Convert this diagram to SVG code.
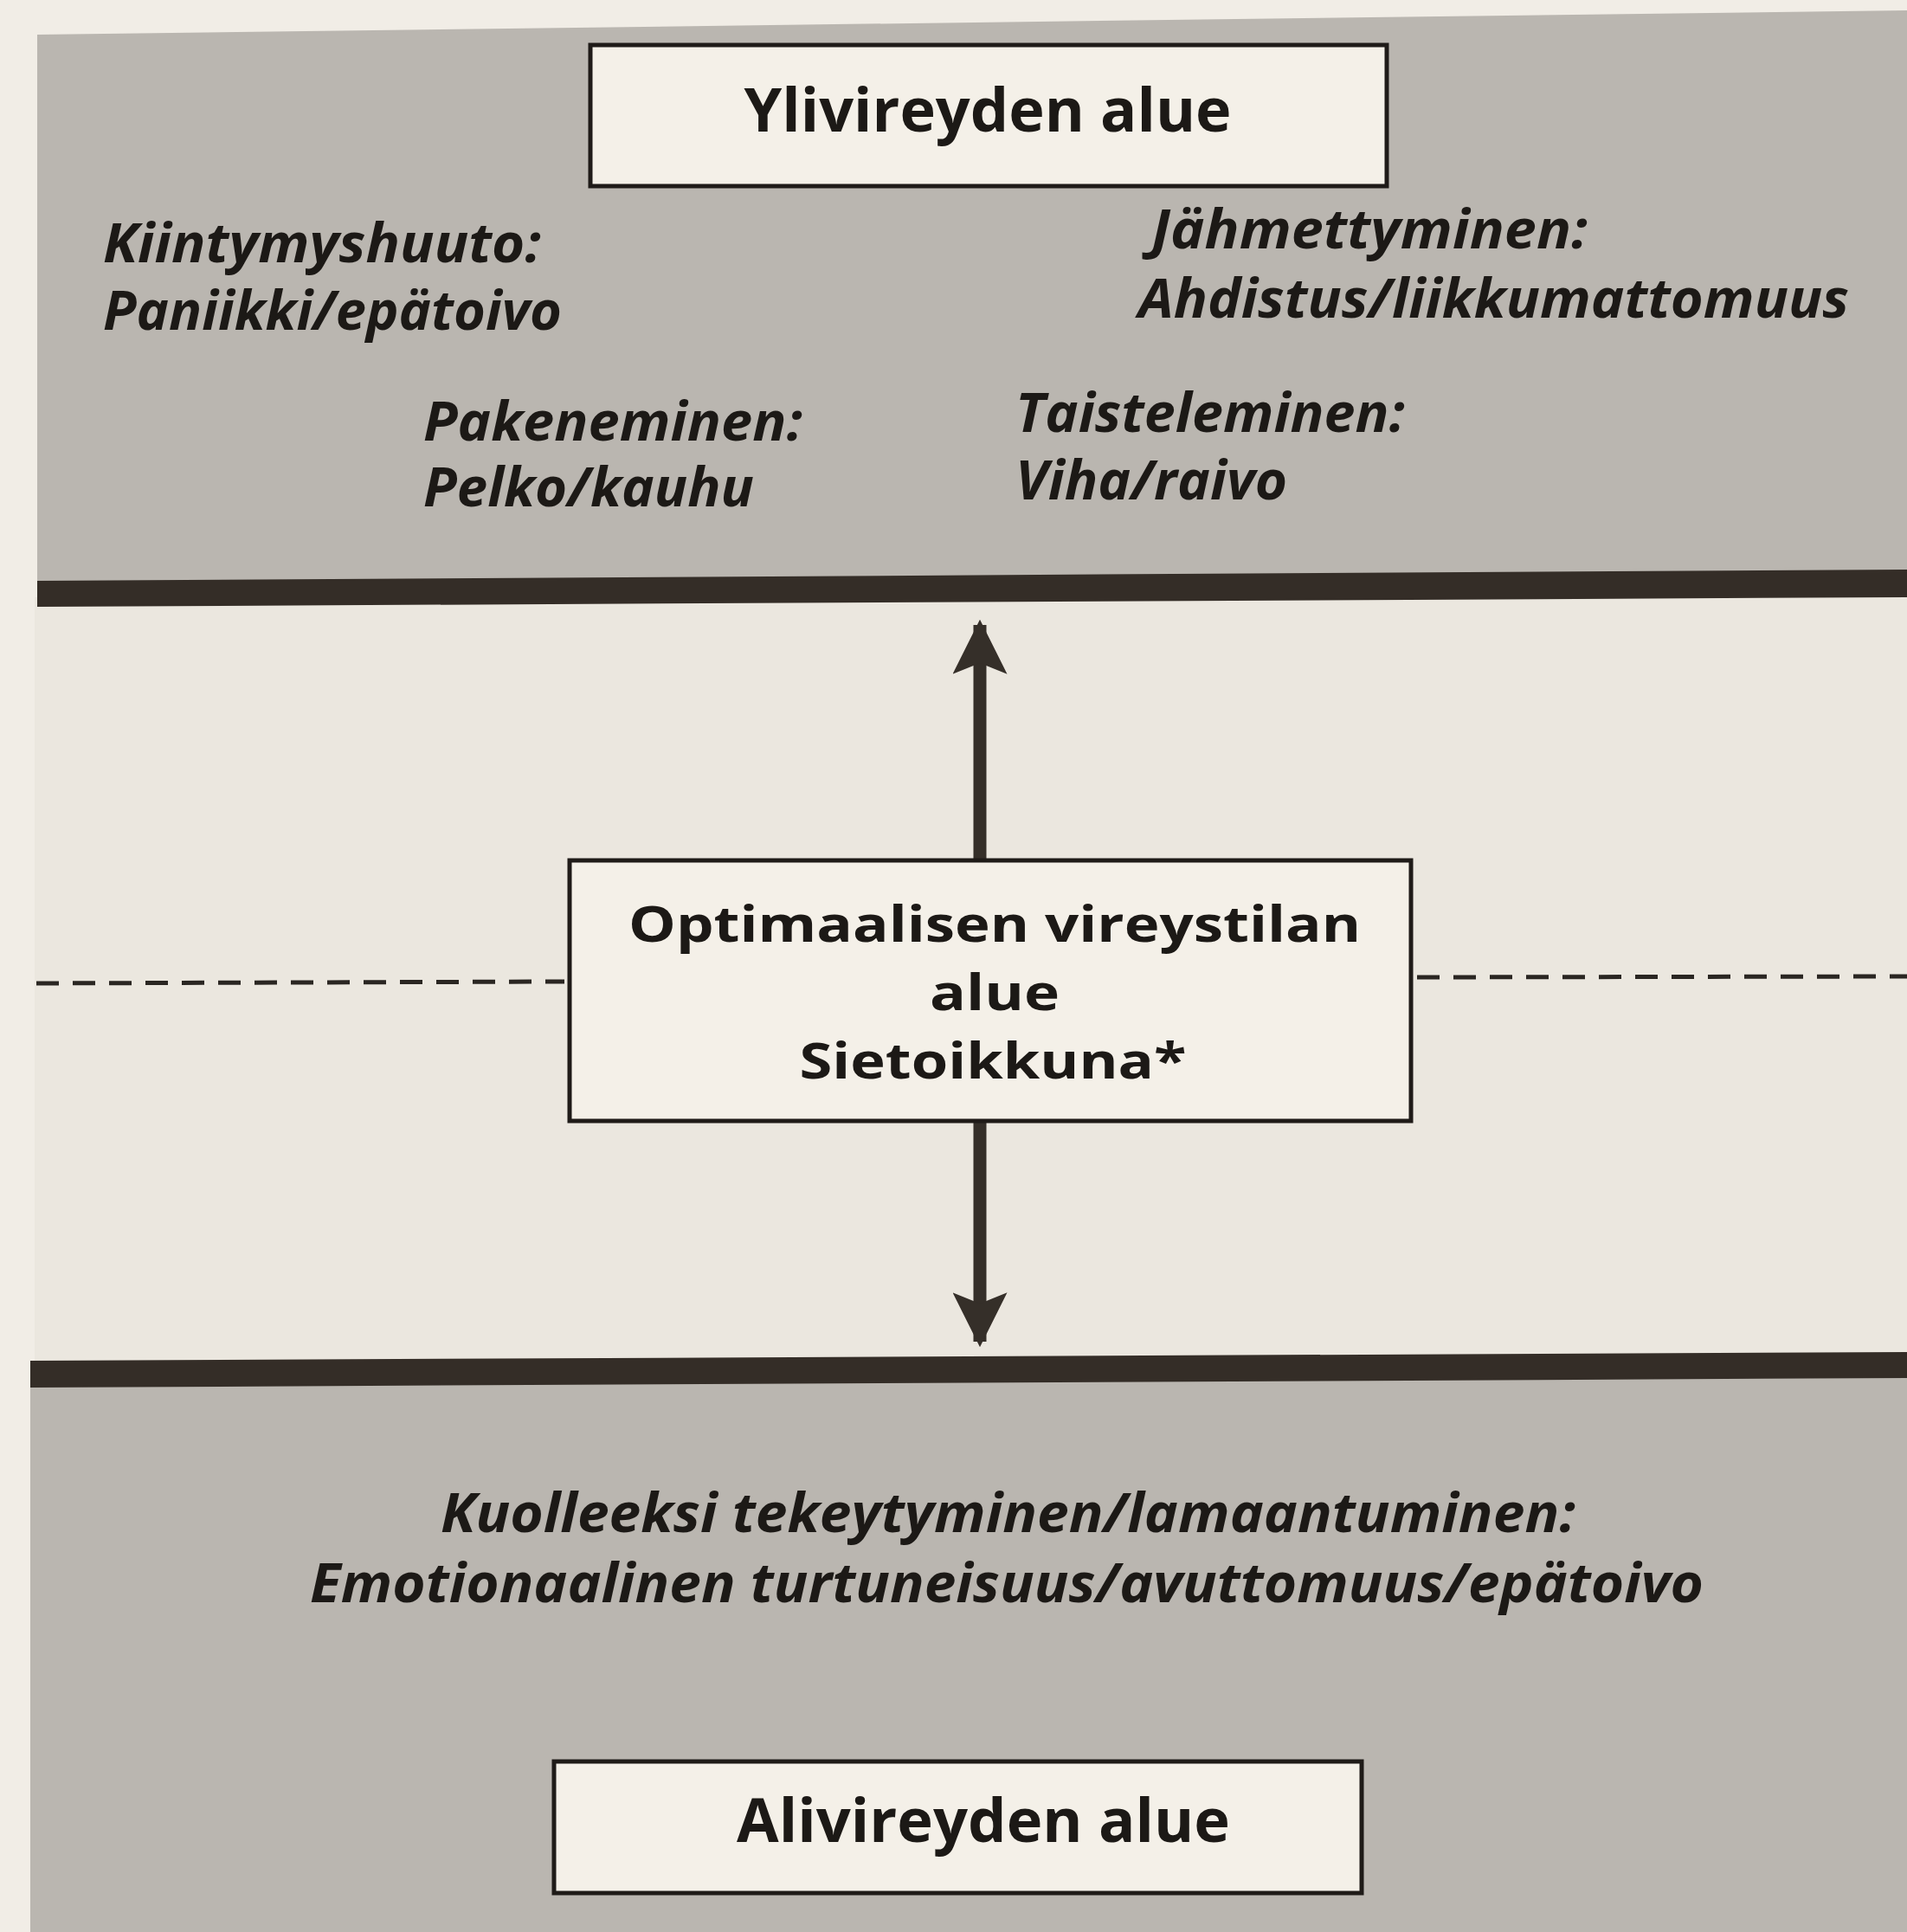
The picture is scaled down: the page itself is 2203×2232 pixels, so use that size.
<svg xmlns="http://www.w3.org/2000/svg" width="2203" height="2232" viewBox="0 0 2203 2232">
<style>
.zone{fill:#bab6b0}
.band{fill:#342d27}
.box{fill:#f4f0e8;stroke:#1f1b18;stroke-width:5}
.t{font-family:"Open Sans","Liberation Sans",sans-serif;font-weight:700;fill:#1c1916}
.h{font-size:70px;text-anchor:middle}
.c{font-size:58px;text-anchor:middle}
.i{font-size:62px;font-style:italic}
.conn{stroke:#352f29;stroke-width:15;fill:none}
.dash{stroke:#2a2622;stroke-width:5;stroke-dasharray:26 16;fill:none}
</style>
<defs>
<marker id="ah" viewBox="0 0 10 10" refX="9" refY="5" markerWidth="4.2" markerHeight="4.2" orient="auto" markerUnits="strokeWidth">
<path d="M0,0 L10,5 L0,10 L2,5 Z" fill="#352f29"/>
</marker>
</defs>
<rect x="0" y="0" width="2203" height="2232" fill="#f1ede6"/>
<rect x="40" y="690" width="2163" height="895" fill="#ebe7df"/>
<polygon class="zone" points="43,40 2203,12 2203,680 43,690"/>
<polygon class="zone" points="35,1590 2203,1580 2203,2232 35,2232"/>
<polygon class="band" points="43,671 2203,658 2203,690 43,701"/>
<polygon class="band" points="35,1572 2203,1562 2203,1592 35,1603"/>
<g id="connectors">
<line class="conn" x1="1132" y1="992" x2="1132" y2="722" marker-end="url(#ah)"/>
<line class="conn" x1="1132" y1="1296" x2="1132" y2="1550" marker-end="url(#ah)"/>
<line class="dash" x1="42" y1="1136" x2="652" y2="1134"/>
<line class="dash" x1="1637" y1="1129" x2="2203" y2="1128"/>
</g>
<g id="ylivireyden-alue">
<rect class="box" x="682" y="52" width="920" height="163"/>
<text class="t h" x="1141" y="152" textLength="563" lengthAdjust="spacingAndGlyphs">Ylivireyden alue</text>
</g>
<g id="kiintymyshuuto">
<text class="t i" x="119" y="303" textLength="506" lengthAdjust="spacingAndGlyphs">Kiintymyshuuto:</text>
<text class="t i" x="119" y="381" textLength="530" lengthAdjust="spacingAndGlyphs">Paniikki/epätoivo</text>
</g>
<g id="jahmettyminen">
<text class="t i" x="1330" y="287" textLength="504" lengthAdjust="spacingAndGlyphs">Jähmettyminen:</text>
<text class="t i" x="1315" y="367" textLength="821" lengthAdjust="spacingAndGlyphs">Ahdistus/liikkumattomuus</text>
</g>
<g id="pakeneminen">
<text class="t i" x="489" y="509" textLength="438" lengthAdjust="spacingAndGlyphs">Pakeneminen:</text>
<text class="t i" x="489" y="585" textLength="382" lengthAdjust="spacingAndGlyphs">Pelko/kauhu</text>
</g>
<g id="taisteleminen">
<text class="t i" x="1173" y="499" textLength="450" lengthAdjust="spacingAndGlyphs">Taisteleminen:</text>
<text class="t i" x="1173" y="577" textLength="314" lengthAdjust="spacingAndGlyphs">Viha/raivo</text>
</g>
<g id="sietoikkuna">
<rect class="box" x="658" y="994" width="972" height="301"/>
<text class="t c" x="1149" y="1088" textLength="846" lengthAdjust="spacingAndGlyphs">Optimaalisen vireystilan</text>
<text class="t c" x="1149" y="1167" textLength="150" lengthAdjust="spacingAndGlyphs">alue</text>
<text class="t c" x="1147" y="1246" textLength="447" lengthAdjust="spacingAndGlyphs">Sietoikkuna*</text>
</g>
<g id="kuolleeksi-tekeytyminen">
<text class="t i" x="509" y="1770" textLength="1311" lengthAdjust="spacingAndGlyphs">Kuolleeksi tekeytyminen/lamaantuminen:</text>
<text class="t i" x="358" y="1851" textLength="1610" lengthAdjust="spacingAndGlyphs">Emotionaalinen turtuneisuus/avuttomuus/epätoivo</text>
</g>
<g id="alivireyden-alue">
<rect class="box" x="640" y="2035" width="933" height="152"/>
<text class="t h" x="1136" y="2128" textLength="570" lengthAdjust="spacingAndGlyphs">Alivireyden alue</text>
</g>
</svg>
